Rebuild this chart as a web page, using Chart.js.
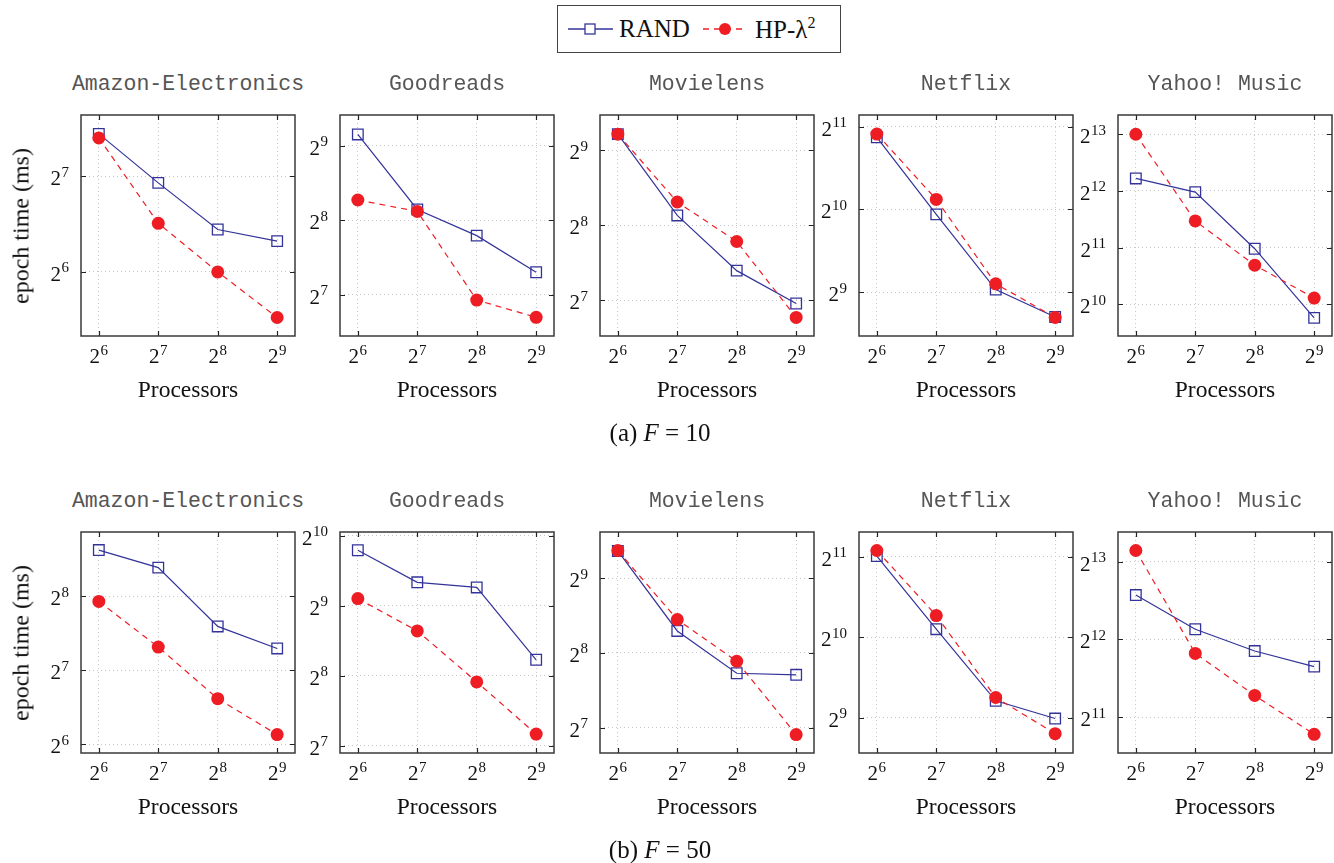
<!DOCTYPE html>
<html>
<head>
<meta charset="utf-8">
<script src="https://cdn.jsdelivr.net/npm/chart.js@4.4.1/dist/chart.umd.min.js"></script>
<style>
  body { margin:0; width:1334px; height:863px; background:#fff; position:relative; overflow:hidden;
         font-family:'Liberation Serif', serif; color:#111; }
  canvas { position:absolute; }
  .t { position:absolute; white-space:nowrap; transform:translate(-50%,-50%); }
  .title { font-family:'Liberation Mono', monospace; font-size:21.5px; color:#555; }
  .xl { font-size:23.5px; }
  .yl { font-size:24px; transform:translate(-50%,-50%) rotate(-90deg); }
  .cap { font-size:25px; }
  #legend { position:absolute; left:557px; top:5px; width:284px; height:48px; border:1.3px solid #444; box-sizing:border-box; }
  #legend span { position:absolute; top:23px; transform:translate(0,-50%); font-size:25px; white-space:nowrap; }
  #legend sup { font-size:16px; }
</style>
</head>
<body>
<div id="legend">
  <svg width="284" height="48" style="position:absolute;left:0;top:0">
    <line x1="10" y1="23" x2="55" y2="23" stroke="#33339a" stroke-width="1.3"/>
    <rect x="27" y="18" width="10" height="10" fill="#fff" stroke="#33339a" stroke-width="1.3"/>
    <line x1="145" y1="23" x2="188" y2="23" stroke="#ee1d23" stroke-width="1.3" stroke-dasharray="6,5"/>
    <circle cx="167" cy="23" r="6" fill="#ee1d23"/>
  </svg>
  <span style="left:61px">RAND</span>
  <span style="left:197px">HP-λ<sup>2</sup></span>
</div>
<script>
// processors (x) and dataset names
const processors = [64, 128, 256, 512];
const datasetNames = ['Amazon-Electronics', 'Goodreads', 'Movielens', 'Netflix', 'Yahoo! Music'];

// epoch time (ms), F = 10
const randF10 = [
  [174, 122, 87, 80],
  [568, 283, 222, 158],
  [594, 280, 168, 124],
  [1872, 982, 523, 416],
  [4772, 4039, 2020, 867],
];
const hpF10 = [
  [169, 91, 64, 46],
  [309, 278, 122, 104],
  [594, 317, 220, 109],
  [1924, 1113, 549, 414],
  [8192, 2837, 1652, 1105],
];

// epoch time (ms), F = 50
const randF50 = [
  [395, 335, 193, 157],
  [885, 645, 613, 300],
  [660, 314, 212, 209],
  [2062, 1098, 592, 508],
  [6080, 4482, 3692, 3214],
];
const hpF50 = [
  [244, 159, 98, 70],
  [549, 399, 241, 144],
  [662, 349, 237, 120],
  [2165, 1235, 609, 446],
  [9043, 3615, 2487, 1758],
];

// y tick exponents (powers of two) per panel
const yTicksF10 = [[6, 7], [7, 8, 9], [7, 8, 9], [9, 10, 11], [10, 11, 12, 13]];
const yTicksF50 = [[6, 7, 8], [7, 8, 9, 10], [7, 8, 9], [9, 10, 11], [11, 12, 13]];
// y axis range, as exponents
const yRangeF10 = [[5.33, 7.64], [6.45, 9.41], [6.52, 9.47], [8.47, 11.14], [9.44, 13.34]];
const yRangeF50 = [[5.88, 8.87], [6.9, 10.05], [6.66, 9.62], [8.56, 11.31], [10.54, 13.38]];

const BLUE = '#33339a', RED = '#ee1d23';
const boxLefts = [81, 340, 600, 859, 1118];
const boxTops = [115, 532];
const BW = 214, BH = 221;
const PL = 56, PT = 14, PR = 10, PB = 44;

const BASE_FONT = "21px 'Liberation Serif', serif";
const EXP_FONT = "15px 'Liberation Serif', serif";

// draws "2^e" with a raised exponent; align 'center' or 'right' at x, baseline y
function drawPow(ctx, e, x, y, align) {
  ctx.font = BASE_FONT;
  const wb = ctx.measureText('2').width;
  ctx.font = EXP_FONT;
  const we = ctx.measureText(String(e)).width;
  const w = wb + we + 0.5;
  const x0 = align === 'center' ? x - w / 2 : x - w;
  ctx.font = BASE_FONT;
  ctx.fillText('2', x0, y);
  ctx.font = EXP_FONT;
  ctx.fillText(String(e), x0 + wb + 0.5, y - 8.5);
}

const framePlugin = {
  id: 'frame',
  beforeDatasetsDraw(chart) {
    const { ctx, chartArea: a, scales: { x, y } } = chart;
    ctx.save();
    ctx.strokeStyle = '#222';
    ctx.lineWidth = 1.2;
    ctx.beginPath();
    x.ticks.forEach(t => {
      const px = Math.round(x.getPixelForValue(t.value)) + 0.5;
      ctx.moveTo(px, a.bottom); ctx.lineTo(px, a.bottom - 5);
      ctx.moveTo(px, a.top); ctx.lineTo(px, a.top + 5);
    });
    y.ticks.forEach(t => {
      const py = Math.round(y.getPixelForValue(t.value)) + 0.5;
      ctx.moveTo(a.left, py); ctx.lineTo(a.left + 5, py);
      ctx.moveTo(a.right, py); ctx.lineTo(a.right - 5, py);
    });
    ctx.stroke();
    ctx.strokeStyle = '#3a3a3a';
    ctx.lineWidth = 1.5;
    ctx.strokeRect(a.left, a.top, a.width, a.height);

    // tick labels
    ctx.fillStyle = '#111';
    ctx.textBaseline = 'alphabetic';
    ctx.textAlign = 'left';
    x.ticks.forEach(t => {
      drawPow(ctx, Math.round(Math.log2(t.value)), x.getPixelForValue(t.value), a.bottom + 27, 'center');
    });
    y.ticks.forEach(t => {
      drawPow(ctx, Math.round(Math.log2(t.value)), a.left - 12, y.getPixelForValue(t.value) + 9, 'right');
    });
    ctx.restore();
  }
};

function addText(cls, html, x, y) {
  const d = document.createElement('div');
  d.className = 't ' + cls;
  d.innerHTML = html;
  d.style.left = x + 'px';
  d.style.top = y + 'px';
  document.body.appendChild(d);
}

function makePanel(row, col, rand, hp, yRange, yTicks) {
  const bl = boxLefts[col], bt = boxTops[row];
  const cv = document.createElement('canvas');
  cv.width = PL + BW + PR;
  cv.height = PT + BH + PB;
  cv.style.left = (bl - PL) + 'px';
  cv.style.top = (bt - PT) + 'px';
  cv.style.width = cv.width + 'px';
  cv.style.height = cv.height + 'px';
  document.body.appendChild(cv);

  const pts = vals => processors.map((p, i) => ({ x: p, y: vals[i] }));

  new Chart(cv.getContext('2d'), {
    type: 'line',
    data: {
      datasets: [
        {
          label: 'RAND', data: pts(rand), order: 2,
          borderColor: BLUE, borderWidth: 1.2, backgroundColor: '#fff',
          pointStyle: 'rect', pointRadius: 7.5, pointBorderWidth: 1.3,
          pointBorderColor: BLUE, pointBackgroundColor: 'rgba(255,255,255,0)',
          tension: 0, clip: false,
        },
        {
          label: 'HP-λ²', data: pts(hp), order: 1,
          borderColor: RED, borderWidth: 1.2, borderDash: [6, 5],
          pointStyle: 'circle', pointRadius: 6.5, pointBorderWidth: 0,
          pointBackgroundColor: RED, backgroundColor: RED,
          tension: 0, clip: false,
        },
      ],
    },
    options: {
      responsive: false,
      animation: false,
      events: [],
      layout: { padding: { top: PT, right: PR, left: 0, bottom: 0 } },
      plugins: { legend: { display: false }, tooltip: { enabled: false } },
      scales: {
        x: {
          type: 'logarithmic',
          min: 64 / Math.pow(2, 0.3),
          max: 512 * Math.pow(2, 0.3),
          afterBuildTicks: s => { s.ticks = processors.map(v => ({ value: v })); },
          afterFit: s => { s.height = PB; s.paddingLeft = 0; s.paddingRight = 0; },
          ticks: { display: false },
          grid: { color: '#c8c8c8', lineWidth: 1, drawTicks: false },
          border: { display: false, dash: [1, 3] },
        },
        y: {
          type: 'logarithmic',
          min: Math.pow(2, yRange[0]),
          max: Math.pow(2, yRange[1]),
          afterBuildTicks: s => { s.ticks = yTicks.map(e => ({ value: Math.pow(2, e) })); },
          afterFit: s => { s.width = PL; s.paddingTop = 0; s.paddingBottom = 0; },
          ticks: { display: false },
          grid: { color: '#c8c8c8', lineWidth: 1, drawTicks: false },
          border: { display: false, dash: [1, 3] },
        },
      },
    },
    plugins: [framePlugin],
  });

  const cx = bl + BW / 2;
  addText('title', datasetNames[col], cx, bt - 31);
  addText('xl', 'Processors', cx, bt + BH + 53);
  if (col === 0) addText('yl', 'epoch time (ms)', 21, bt + BH / 2);
}

for (let c = 0; c < 5; c++) {
  makePanel(0, c, randF10[c], hpF10[c], yRangeF10[c], yTicksF10[c]);
  makePanel(1, c, randF50[c], hpF50[c], yRangeF50[c], yTicksF50[c]);
}
addText('cap', '(a) <i>F</i>&nbsp;=&nbsp;10', 660, 433);
addText('cap', '(b) <i>F</i>&nbsp;=&nbsp;50', 660, 850);
</script>
</body>
</html>
